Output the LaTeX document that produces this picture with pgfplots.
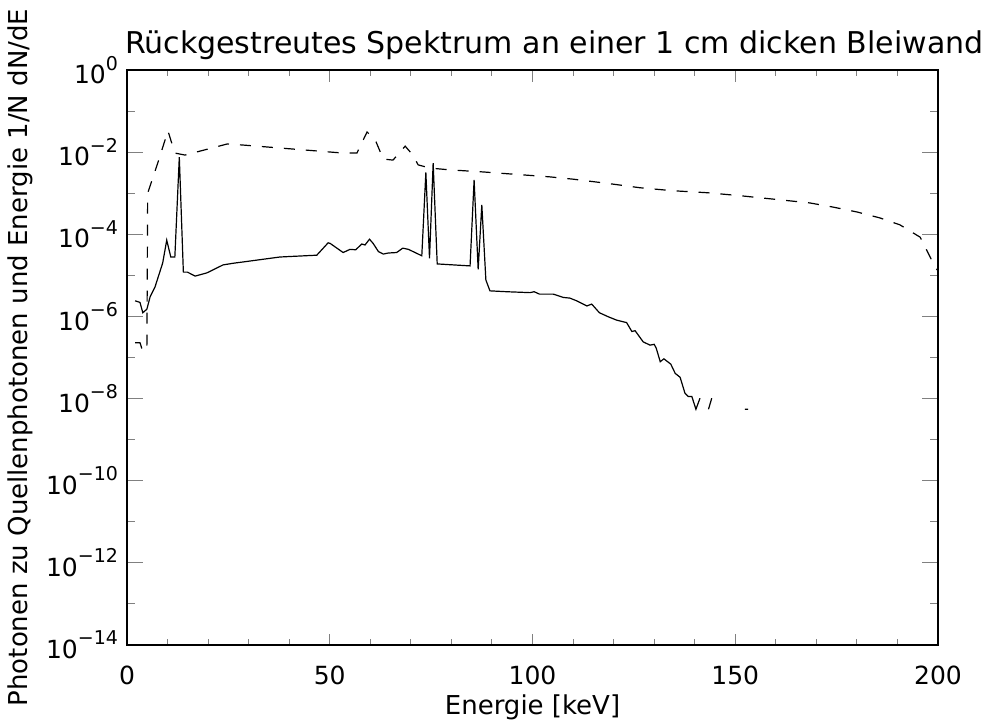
\documentclass[border=0pt]{standalone}
\usepackage{fontspec}
\setmainfont{DejaVu Sans}
\usepackage{pgfplots}
\pgfplotsset{compat=1.18}

% dashed: Rueckstreuung gesamt, solid: einzelne Komponente
\newcommand{\dec}[1]{10\raisebox{0.55em}{\fontsize{9.5}{10}\selectfont #1}}
\begin{document}
\begin{tikzpicture}
\begin{axis}[
  scale only axis,
  width=405.5pt, height=287.5pt,
  xmin=0, xmax=200,
  ymode=log, ymin=1e-14, ymax=1,
  axis line style={line width=0.6pt},
  xtick={0,50,100,150,200},
  minor xtick={10,20,30,40,60,70,80,90,110,120,130,140,160,170,180,190},
  ytick={1e-14,1e-12,1e-10,1e-8,1e-6,1e-4,1e-2,1},
  yticklabels={\dec{−14},\dec{−12},\dec{−10},\dec{−8},\dec{−6},\dec{−4},\dec{−2},\dec{0}},
  minor ytick={1e-13,1e-11,1e-9,1e-7,1e-5,1e-3,1e-1},
  tick align=inside,
  xtick style={/pgfplots/major tick length=5.75pt,/pgfplots/minor tick length=2.9pt,line width=0.5pt},
  ytick style={/pgfplots/major tick length=8pt,/pgfplots/minor tick length=4pt,line width=0.5pt},
  tick label style={font=\fontsize{12.5}{14}\selectfont},
  xticklabel style={yshift=-7pt, /pgf/number format/assume math mode=true},
  yticklabel style={xshift=-1pt},
  label style={font=\fontsize{13}{15}\selectfont},
  xlabel={Energie [keV]},
  xlabel style={at={(axis description cs:0.5,-0.108)}, anchor=center},
  ylabel={Photonen zu Quellenphotonen und Energie 1/N dN/dE},
  ylabel style={at={(axis description cs:-0.132,0.5)}, anchor=center},
  title={Rückgestreutes Spektrum an einer 1 cm dicken Bleiwand},
  title style={at={(axis description cs:0,1)}, anchor=base west, yshift=2.5pt, xshift=-4.5pt, font=\fontsize{15}{17}\selectfont},
  unbounded coords=jump,
]
\addplot[black, line width=0.6pt, dash pattern=on 5.5pt off 5.5pt] coordinates {
  (2.0,2.3e-7) (3.2,2.3e-7) (3.8,1.5e-7) (4.9,1.5e-7) (5.1,1.0e-3)
  (7.6,5.5e-3) (10.1,0.033) (11.8,0.0095) (14.3,0.0085) (24.7,0.0158)
  (28.6,0.0149) (53.3,0.0095) (56.7,0.0095) (59.2,0.031) (61.2,0.020)
  (63.2,0.0068) (65.6,0.0064) (67.3,0.010) (68.6,0.014) (70.5,0.0085)
  (71.8,0.0049) (74.7,0.0041) (79.7,0.0037) (87.8,0.0033) (104.3,0.0025)
  (110.0,0.0022) (118.4,0.00174) (126.5,0.00136) (134.6,0.00115)
  (143.0,0.00103) (151.2,8.7e-4) (159.3,7.2e-4) (168.4,5.8e-4)
  (174.1,4.6e-4) (180.0,3.5e-4) (185.7,2.5e-4) (190.6,1.7e-4)
  (195.6,8.5e-5) (198.8,2.0e-5) (199.8,1.35e-5)
};
\addplot[black, line width=0.6pt] coordinates {
  (2.0,2.4e-6) (3.2,2.2e-6) (3.9,1.23e-6) (4.9,1.5e-6) (5.7,3.0e-6)
  (6.9,5.2e-6) (8.8,2.0e-5) (9.8,7.2e-5) (10.8,2.8e-5) (11.8,2.8e-5)
  (12.9,7.6e-3) (13.9,1.2e-5) (14.9,1.2e-5) (16.8,9.6e-6) (19.7,1.15e-5)
  (23.7,1.8e-5) (26.6,2.0e-5) (28.3,2.1e-5) (37.7,2.8e-5) (46.8,3.1e-5)
  (49.6,6.2e-5) (50.1,6.0e-5) (53.3,3.6e-5) (55.0,4.3e-5) (56.4,4.2e-5)
  (57.9,5.8e-5) (58.7,5.5e-5) (59.8,7.6e-5) (60.7,6.0e-5) (62.0,3.8e-5)
  (63.2,3.3e-5) (64.4,3.5e-5) (66.5,3.6e-5) (68.0,4.6e-5) (69.4,4.3e-5)
  (72.7,3.0e-5) (73.7,3.2e-3) (74.6,2.6e-5) (75.5,5.4e-3) (76.5,1.9e-5)
  (84.6,1.7e-5) (85.6,2.1e-3) (86.6,1.4e-5) (87.5,5.2e-4) (88.5,7.7e-6)
  (89.5,4.2e-6) (93.6,4.0e-6) (99.4,3.8e-6) (100.4,4.0e-6) (101.7,3.5e-6)
  (105.1,3.5e-6) (107.6,2.9e-6) (109.2,2.8e-6) (110.9,2.4e-6) (113.4,1.8e-6)
  (114.6,2.0e-6) (116.5,1.23e-6) (118.7,9.8e-7) (120.8,8.1e-7) (122.4,7.4e-7)
  (123.2,7.1e-7) (124.5,4.3e-7) (125.3,4.5e-7) (127.3,2.4e-7) (129.0,2.0e-7)
  (130.0,2.1e-7) (130.5,1.7e-7) (131.5,7.9e-8) (132.4,9.3e-8) (134.1,6.9e-8)
  (135.2,4.1e-8) (136.4,3.3e-8) (137.6,1.35e-8) (138.4,1.12e-8) (139.3,1.12e-8)
  (140.3,5.5e-9) (141.3,1.02e-8) (142.3,nan) (143.4,5.5e-9) (144.2,1.02e-8)
  (145.0,nan) (152.4,5.5e-9) (153.2,5.5e-9)
};
\end{axis}
\pgfresetboundingbox
\useasboundingbox ([xshift=-63.5pt,yshift=-37.5pt]current axis.south west)
  rectangle ([xshift=25pt,yshift=35pt]current axis.north east);
\end{tikzpicture}
\end{document}
